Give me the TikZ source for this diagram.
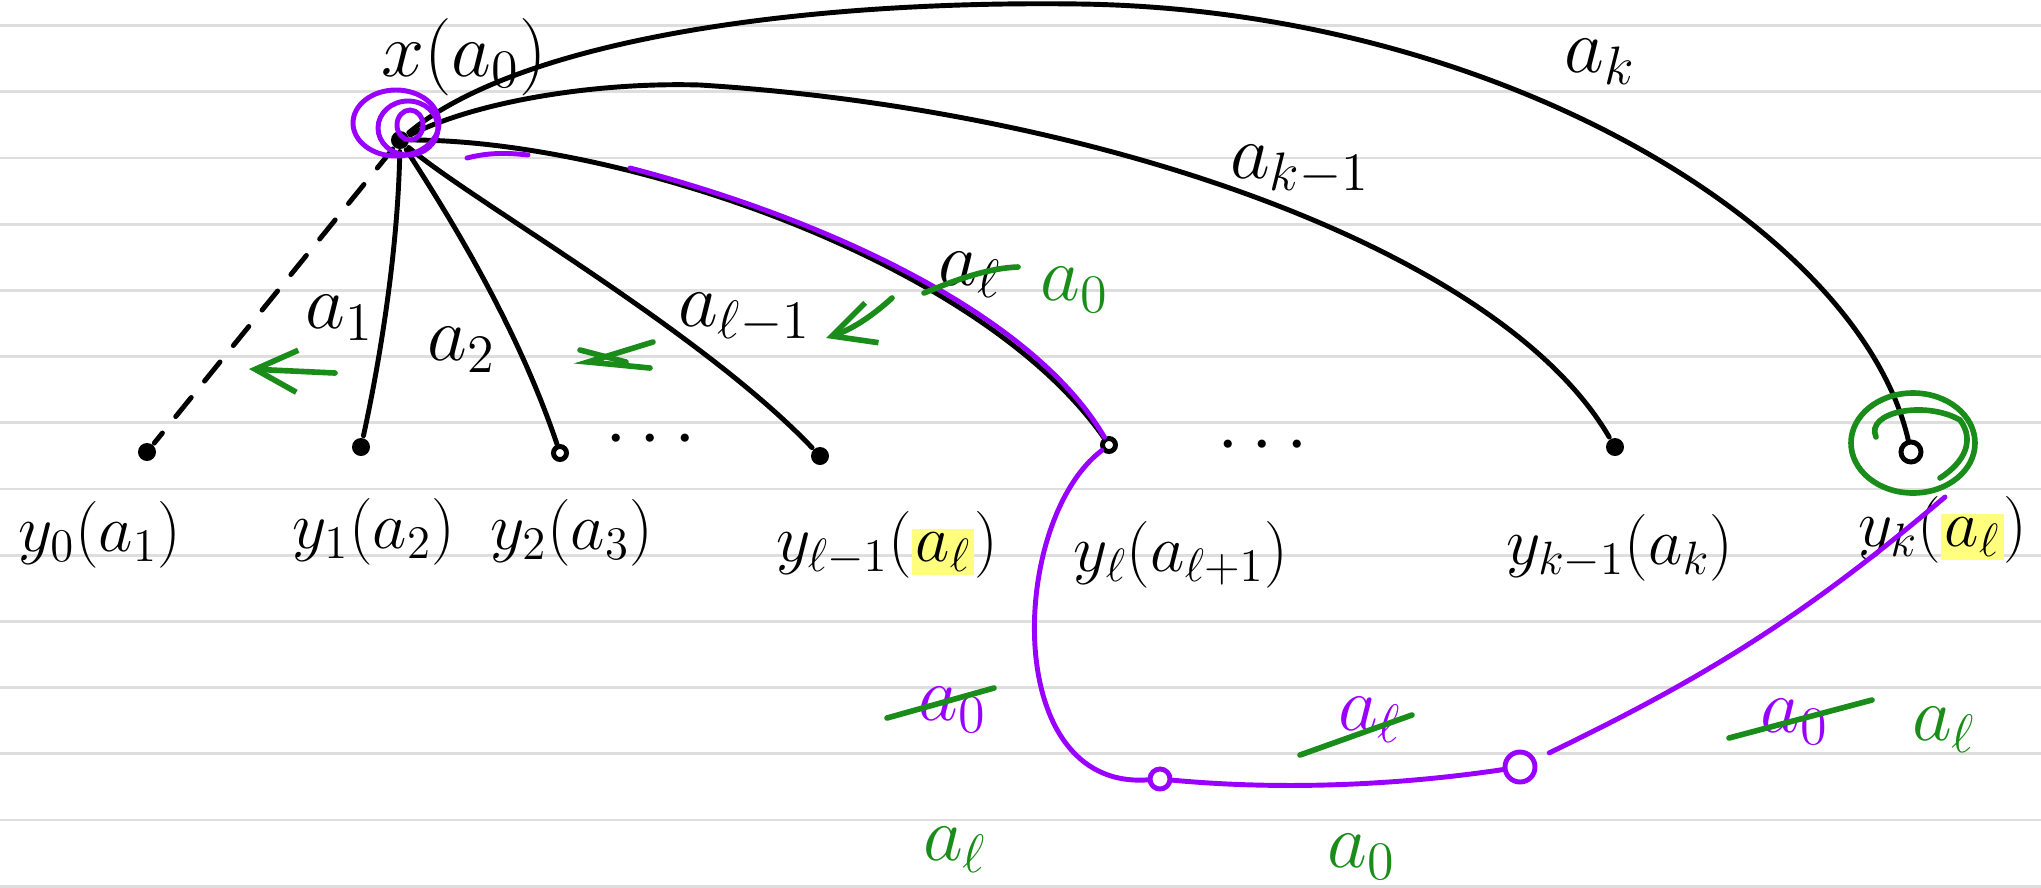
\RequirePackage{fix-cm}
\documentclass[tikz,border=0pt]{standalone}
\usepackage{amsmath}
\usepackage{tikz}
\usetikzlibrary{arrows.meta}
\definecolor{purple3}{RGB}{153,0,255}
\definecolor{green3}{RGB}{25,140,25}
\definecolor{hlyellow}{RGB}{255,255,125}
\definecolor{rulegray}{RGB}{222,222,222}
\def\hl#1{{\setlength{\fboxsep}{1pt}\colorbox{hlyellow}{$#1$}}}

\begin{document}
\begin{tikzpicture}[x=0.01cm, y={(0cm,-0.01cm)}, line width=1.4pt, line cap=round,
    every node/.style={font=\fontsize{22}{26}\selectfont},
    vlab/.style={font=\fontsize{19}{23}\selectfont},
    blackdot/.style={circle, fill=black, inner sep=0pt, minimum size=0.18cm},
    opendot/.style={circle, draw=black, inner sep=0pt, minimum size=0.13cm},
    pdot/.style={circle, draw=purple3, inner sep=0pt, minimum size=#1},
    gmark/.style={green3, line width=1.6pt},
    pmark/.style={purple3, line width=1.4pt},
    >={Straight Barb[length=0.42cm, width=0.42cm]}]
    \fill[white] (0,0) rectangle (2041,887);
    \useasboundingbox (0,0) rectangle (2041,887);
    \foreach \k in {0,...,13}
        \draw[rulegray, line width=0.8pt] (0,{25.5+66.2*\k}) -- (2041,{25.5+66.2*\k});
    % vertices
    \node[blackdot] (x) at (400,140) {};
    \node (xlab) at (464,57) {$x(a_0)$};
    \node[blackdot] (y0) at (147,452) {};
    \node[blackdot] (y1) at (361,447) {};
    \node[opendot] (y2) at (560,453) {};
    \node[blackdot] (ylm) at (820,456) {};
    \node[opendot] (yl) at (1109,445) {};
    \node[blackdot] (ykm) at (1615,447) {};
    \node[opendot, minimum size=0.2cm] (yk) at (1911,452) {};
    \node (dotsa) at (657,440) {$\cdots$};
    \node (dotsb) at (1269,446) {$\cdots$};
    \node[vlab] (y0lab) at (100,535) {$y_0(a_1)$};
    \node[vlab] (y1lab) at (374,532) {$y_1(a_2)$};
    \node[vlab] (y2lab) at (572,533) {$y_2(a_3)$};
    \node[vlab] (ylmlab) at (887,545) {$y_{\ell-1}(\hl{a_\ell})$};
    \node[vlab] (yllab) at (1181,555) {$y_\ell(a_{\ell+1})$};
    \node[vlab] (ykmlab) at (1620,548) {$y_{k-1}(a_k)$};
    \node[vlab] (yklab) at (1943,530) {$y_k(\hl{a_\ell})$};
    % edges
    \draw[dash pattern=on 7pt off 6pt] (x) -- (y0);
    \draw (x) .. controls (398,250) and (380,360) .. (y1);
    \draw (x) .. controls (445,210) and (515,320) .. (y2);
    \draw (x) .. controls (470,200) and (700,330) .. (ylm);
    \draw (x) .. controls (620,140) and (980,260) .. (yl);
    \draw (x) .. controls (480,100) and (600,82) .. (700,85) .. controls (1100,110) and (1500,250) .. (ykm);
    \draw (x) .. controls (520,40) and (800,0) .. (1080,4) .. controls (1500,10) and (1860,230) .. (yk);
    \node at (340,318) {$a_1$};
    \node at (462,350) {$a_2$};
    \node[anchor=west] at (664,318) {$a_{\ell-1}$};
    \node (al) at (970,275) {$a_\ell$};
    \node at (1300,170) {$a_{k-1}$};
    \node at (1600,62) {$a_k$};
    % purple path
    \coordinate (pstart) at (630,168);
    \coordinate (pend) at (1945,497);
    \node[pdot=0.2cm] (w1) at (1160,779) {};
    \node[pdot=0.3cm] (w2) at (1520,767) {};
    \draw[pmark] (pstart) .. controls (815,216) and (1030,310) .. (yl)
        .. controls (1010,520) and (1000,790) .. (w1);
    \draw[pmark] (w1) .. controls (1300,792) and (1420,782) .. (w2);
    \draw[pmark, shorten <=0.15cm] (w2) .. controls (1700,680) and (1800,620) .. (pend);
    \draw[pmark] (396,123) ellipse (43 and 33);
    \draw[pmark] (408,128) ellipse (30 and 27);
    \draw[pmark] (410,125) ellipse (13 and 15);
    \draw[pmark] (467,158) .. controls (490,152) and (510,153) .. (528,155);
    \node[text=purple3] at (953,710) {$a_0$};
    \node[text=purple3] at (1370,720) {$a_\ell$};
    \node[text=purple3] at (1795,722) {$a_0$};
    % green corrections
    \draw[gmark] (924,293) .. controls (960,278) and (990,268) .. (1018,267);
    \node[text=green3] at (1075,290) {$a_0$};
    \draw[gmark] (887,718) -- (994,688);
    \draw[gmark] (1300,755) -- (1412,715);
    \draw[gmark] (1729,738) -- (1872,700);
    \node[text=green3] at (1944,730) {$a_\ell$};
    \node[text=green3] at (955,850) {$a_\ell$};
    \node[text=green3] at (1362,857) {$a_0$};
    \draw[gmark, ->] (335,373) -- (249,369);
    \draw[gmark] (653,342) -- (588,362) -- (650,368);
    \draw[gmark] (580,350) -- (626,362);
    \draw[gmark, ->] (892,298) .. controls (870,318) and (850,330) .. (826,338);
    \draw[gmark] (1913,443) ellipse (62 and 50);
    \draw[gmark] (1876,437) .. controls (1865,412) and (1925,400) .. (1960,420)
        .. controls (1975,440) and (1965,462) .. (1940,478);
\end{tikzpicture}
\end{document}
